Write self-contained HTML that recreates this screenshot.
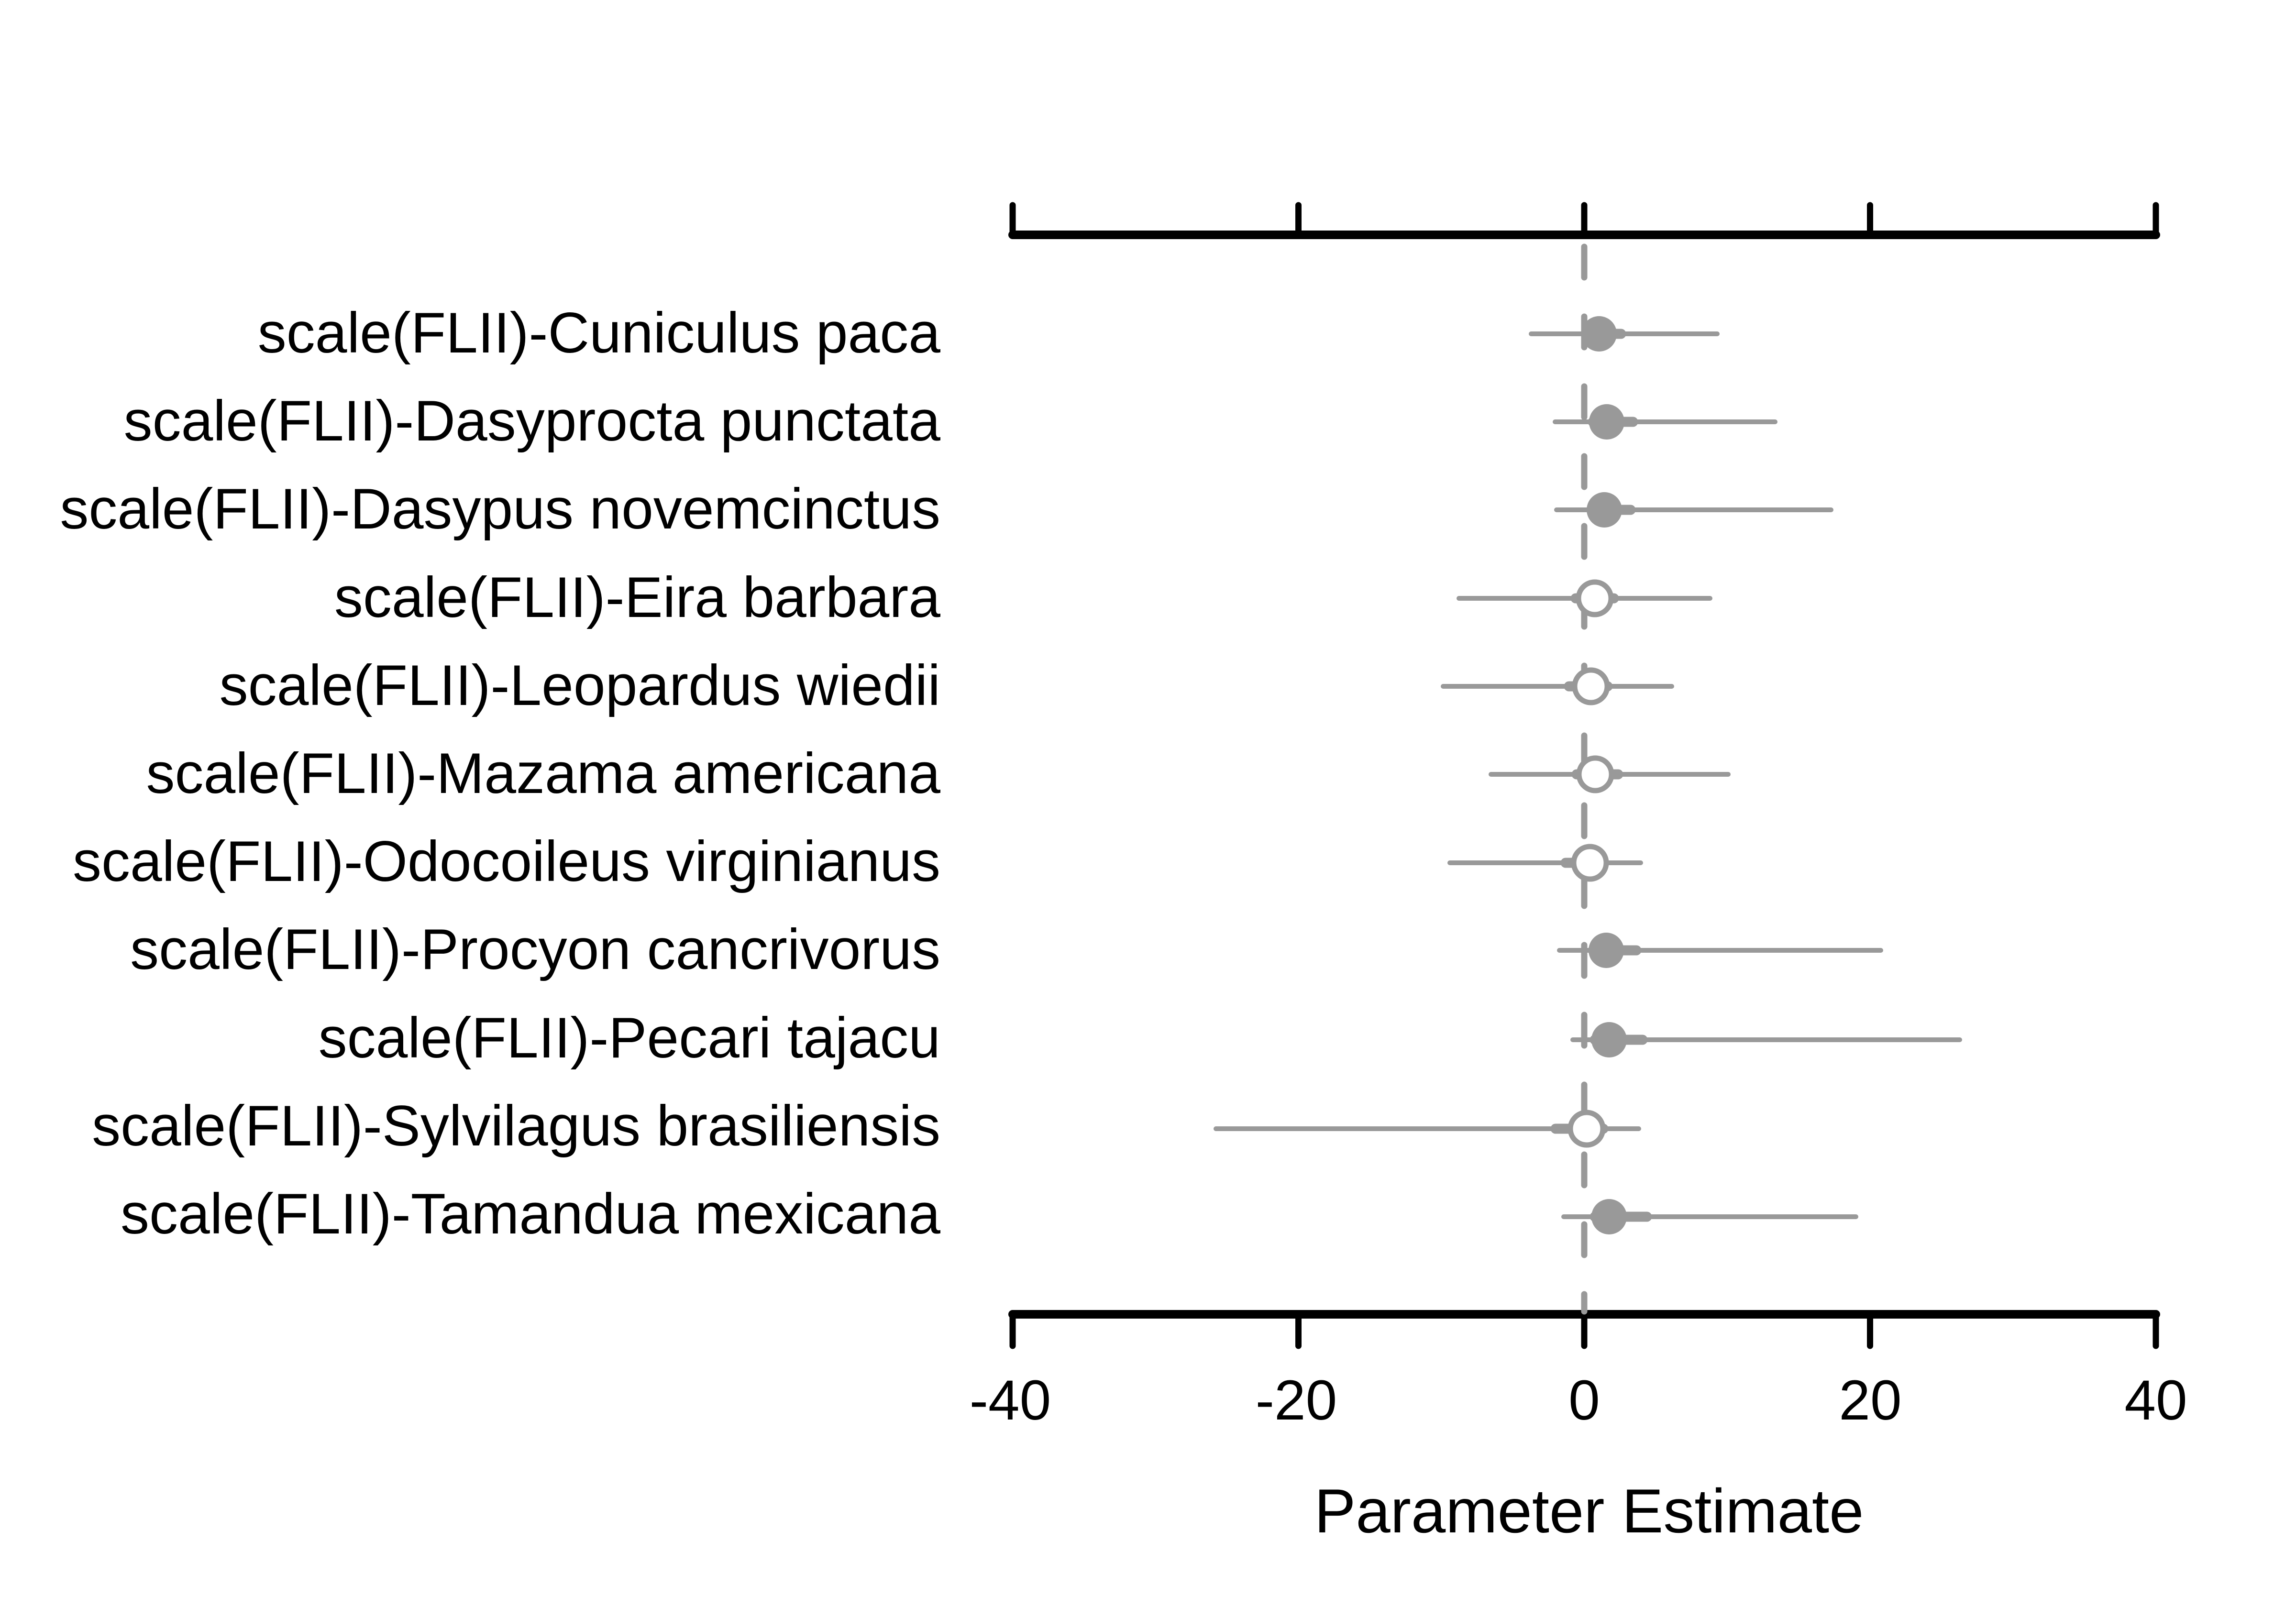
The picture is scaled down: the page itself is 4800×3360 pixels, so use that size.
<!DOCTYPE html>
<html><head><meta charset="utf-8"><style>html,body{margin:0;padding:0;background:#fff}svg{display:block}</style></head><body>
<svg width="4800" height="3360" viewBox="0 0 4800 3360" xmlns="http://www.w3.org/2000/svg" font-family="Liberation Sans, Arial, sans-serif">
<rect width="4800" height="3360" fill="#fff"/>
<g stroke="#000" stroke-linecap="round" fill="none">
<path stroke-width="18" d="M2117 491H4507M2117 2748H4507"/>
<path stroke-width="13" d="M2117 491V429M2714.5 491V429M3312 491V429M3909.5 491V429M4507 491V429M2117 2748V2814M2714.5 2748V2814M3312 2748V2814M3909.5 2748V2814M4507 2748V2814"/>
</g>
<line x1="3312" y1="516" x2="3312" y2="2742" stroke="#999" stroke-width="13" stroke-dasharray="64 82" stroke-linecap="round"/>
<g stroke="#999" stroke-linecap="round" fill="none">
<g stroke-width="10">
<path d="M3201 698H3590M3251 882H3711M3254 1066H3828M3050 1251H3575M3017 1435H3495M3117 1619H3613M3031 1804H3430M3260 1987H3932M3288 2174H4097M2542 2360H3426M3269 2544H3880"/>
</g>
<g stroke-width="21">
<path d="M3318 698H3389M3330 882H3414M3328 1066H3409M3294 1251H3374M3280 1435H3361M3296 1619H3383M3273 1804H3352M3330 1987H3421M3334 2174H3434M3252 2360H3352M3334 2544H3443"/>
</g>
</g>
<g fill="#999">
<circle cx="3343" cy="698" r="37"/><circle cx="3359" cy="882" r="37"/><circle cx="3354" cy="1066" r="37"/>
<circle cx="3358" cy="1987" r="37"/><circle cx="3364" cy="2174" r="37"/><circle cx="3364" cy="2544" r="37"/>
</g>
<g fill="#fff" stroke="#999" stroke-width="11">
<circle cx="3334" cy="1251" r="34"/><circle cx="3326" cy="1435" r="34"/><circle cx="3335" cy="1619" r="34"/>
<circle cx="3324" cy="1804" r="34"/><circle cx="3317" cy="2360" r="34"/>
</g>
<g font-size="120" text-anchor="end" fill="#000">
<text x="1966" y="737">scale(FLII)-Cuniculus paca</text>
<text x="1966" y="921">scale(FLII)-Dasyprocta punctata</text>
<text x="1966" y="1105">scale(FLII)-Dasypus novemcinctus</text>
<text x="1966" y="1290">scale(FLII)-Eira barbara</text>
<text x="1966" y="1474">scale(FLII)-Leopardus wiedii</text>
<text x="1966" y="1658">scale(FLII)-Mazama americana</text>
<text x="1966" y="1842">scale(FLII)-Odocoileus virginianus</text>
<text x="1966" y="2026">scale(FLII)-Procyon cancrivorus</text>
<text x="1966" y="2211">scale(FLII)-Pecari tajacu</text>
<text x="1966" y="2395">scale(FLII)-Sylvilagus brasiliensis</text>
<text x="1966" y="2579">scale(FLII)-Tamandua mexicana</text>
</g>
<g font-size="118" text-anchor="middle" fill="#000">
<text x="2112" y="2968">-40</text><text x="2710" y="2968">-20</text><text x="3312" y="2968">0</text><text x="3910" y="2968">20</text><text x="4507" y="2968">40</text>
<text x="3322" y="3204" font-size="130">Parameter Estimate</text>
</g>
</svg>
</body></html>
